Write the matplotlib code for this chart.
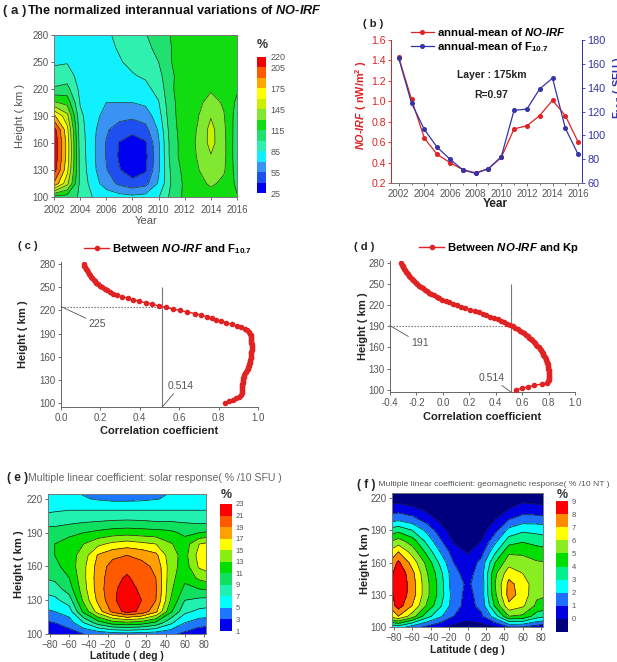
import numpy as np
import matplotlib
matplotlib.use('Agg')
import matplotlib.pyplot as plt

plt.rcParams['font.family'] = ['Liberation Sans', 'DejaVu Sans']
plt.rcParams['mathtext.fontset'] = 'custom'
plt.rcParams['mathtext.rm'] = 'Liberation Sans:bold'
plt.rcParams['mathtext.it'] = 'Liberation Sans:italic:bold'
plt.rcParams['mathtext.bf'] = 'Liberation Sans:bold'

# ---------------- data ----------------
# (a) normalized interannual variation (%), one column per year, heights 100..280 step 15
years_a = [2002, 2003, 2004, 2005, 2006, 2007, 2008, 2009, 2010, 2011, 2012, 2013, 2014, 2015, 2016]
heights_a = [100, 115, 130, 145, 160, 175, 190, 205, 220, 235, 250, 265, 280]
nirf_by_year = [
    [110, 188, 212, 218, 219, 212, 178, 132, 102, 90, 83, 80, 78],
    [108, 150, 165, 170, 170, 165, 150, 125, 105, 92, 84, 80, 78],
    [98, 96, 95, 94, 93, 91, 88, 84, 81, 79, 78, 77, 77],
    [84, 78, 74, 73, 73, 74, 76, 78, 79, 79, 79, 79, 80],
    [80, 62, 56, 54, 54, 57, 64, 70, 75, 78, 80, 82, 83],
    [76, 52, 41, 38, 39, 48, 60, 70, 77, 81, 84, 86, 88],
    [74, 45, 32, 30, 32, 45, 58, 70, 78, 84, 88, 91, 94],
    [76, 50, 38, 36, 38, 50, 62, 73, 81, 87, 92, 96, 99],
    [84, 72, 68, 67, 68, 72, 78, 84, 90, 95, 100, 104, 108],
    [105, 102, 104, 108, 108, 110, 112, 113, 114, 114, 115, 115, 116],
    [118, 118, 120, 122, 122, 122, 121, 120, 120, 119, 119, 119, 119],
    [119, 124, 129, 131, 132, 131, 129, 126, 122, 120, 119, 119, 119],
    [122, 133, 139, 144, 150, 150, 144, 136, 128, 122, 120, 119, 119],
    [118, 126, 132, 134, 134, 133, 131, 128, 123, 120, 119, 119, 119],
    [116, 112, 108, 106, 106, 107, 108, 112, 117, 119, 119, 119, 119],
]
levels_a = [25, 40, 55, 70, 85, 100, 115, 130, 145, 160, 175, 190, 205, 220]
cbar_ticks_a = [25, 55, 85, 115, 145, 175, 205, 220]
cols_a = ['#0000F0', '#1F4FF0', '#3A92F2', '#10F0FF', '#30F0B0', '#20E070', '#10DC10',
          '#80E830', '#C8F000', '#FFFF00', '#FFA800', '#FF5A00', '#F00000']

# (b) annual means at 175 km
years_b = [2002, 2003, 2004, 2005, 2006, 2007, 2008, 2009, 2010, 2011, 2012, 2013, 2014, 2015, 2016]
nirf_b = [1.43, 1.02, 0.64, 0.48, 0.40, 0.33, 0.30, 0.34, 0.45, 0.73, 0.76, 0.86, 1.01, 0.86, 0.60]
f107_b = [165, 127, 105, 90, 80, 71, 68, 72, 82, 121, 122, 139, 148, 106, 84]

# (c) correlation NO-IRF vs F10.7, heights 100..280 step 2
corr_c = [0.830, 0.855, 0.875, 0.890, 0.905, 0.915, 0.920, 0.920, 0.920, 0.920,
          0.920, 0.920, 0.921, 0.922, 0.924, 0.925, 0.926, 0.928, 0.930, 0.935,
          0.940, 0.944, 0.948, 0.951, 0.953, 0.955, 0.957, 0.959, 0.961, 0.963,
          0.965, 0.966, 0.967, 0.967, 0.968, 0.968, 0.968, 0.968, 0.968, 0.967,
          0.967, 0.966, 0.965, 0.964, 0.962, 0.958, 0.952, 0.944, 0.932, 0.915,
          0.893, 0.866, 0.840, 0.814, 0.788, 0.765, 0.740, 0.712, 0.678, 0.639,
          0.603, 0.567, 0.531, 0.496, 0.463, 0.430, 0.395, 0.365, 0.338, 0.310,
          0.285, 0.265, 0.250, 0.236, 0.223, 0.210, 0.199, 0.189, 0.180, 0.172,
          0.165, 0.158, 0.152, 0.146, 0.141, 0.136, 0.131, 0.127, 0.123, 0.119,
          0.115]
# (d) correlation NO-IRF vs Kp, heights 100..280 step 2
corr_d = [0.555, 0.600, 0.645, 0.690, 0.750, 0.785, 0.798, 0.800, 0.800, 0.800,
          0.800, 0.800, 0.800, 0.800, 0.800, 0.799, 0.798, 0.796, 0.794, 0.790,
          0.786, 0.782, 0.778, 0.773, 0.767, 0.761, 0.755, 0.748, 0.740, 0.732,
          0.724, 0.715, 0.706, 0.697, 0.687, 0.677, 0.666, 0.654, 0.641, 0.627,
          0.612, 0.597, 0.582, 0.566, 0.549, 0.530, 0.508, 0.488, 0.465, 0.440,
          0.415, 0.390, 0.360, 0.330, 0.300, 0.270, 0.240, 0.205, 0.168, 0.136,
          0.104, 0.074, 0.046, 0.020, -0.004, -0.026, -0.047, -0.067, -0.086, -0.104,
          -0.121, -0.137, -0.152, -0.166, -0.180, -0.193, -0.205, -0.216, -0.227, -0.237,
          -0.246, -0.255, -0.263, -0.271, -0.278, -0.285, -0.292, -0.298, -0.304, -0.310,
          -0.316]
sig_level = 0.514
cross_c = 225
cross_d = 191

# (e), (f) multiple linear coefficients; one column per latitude, heights 100..230 step 10
lats_ef = [-90, -75, -60, -45, -30, -15, 0, 15, 30, 45, 60, 75, 90]
heights_ef = [100, 110, 120, 130, 140, 150, 160, 170, 180, 190, 200, 210, 220, 230]
solar_by_lat = [
    [1.2, 2.5, 4.5, 6.0, 7.5, 9.0, 10.0, 10.5, 10.5, 10.0, 8.0, 6.5, 5.5, 5.0],
    [1.3, 3.0, 5.0, 6.5, 8.0, 9.5, 10.5, 11.0, 11.0, 10.0, 8.2, 6.8, 5.6, 5.2],
    [2.0, 4.0, 6.0, 8.0, 10.0, 11.0, 11.8, 12.0, 11.8, 10.5, 8.5, 7.0, 5.6, 5.0],
    [3.0, 7.0, 11.5, 13.5, 14.2, 14.5, 14.5, 14.0, 13.0, 11.0, 8.8, 7.0, 5.2, 4.5],
    [3.5, 10.0, 16.0, 17.5, 18.0, 18.0, 17.8, 17.2, 14.5, 11.5, 9.0, 7.0, 4.8, 4.0],
    [4.0, 12.0, 19.5, 20.5, 20.5, 20.2, 19.8, 18.5, 15.5, 12.0, 9.2, 7.0, 4.5, 3.8],
    [4.2, 12.5, 21.8, 22.5, 22.0, 21.3, 20.3, 19.0, 16.0, 12.2, 9.3, 7.0, 4.5, 3.8],
    [4.0, 12.0, 20.5, 21.0, 20.5, 20.0, 19.6, 18.5, 15.5, 12.0, 9.2, 7.0, 4.6, 4.0],
    [3.8, 10.5, 17.5, 19.0, 19.2, 19.0, 18.6, 17.5, 15.0, 11.8, 9.0, 7.0, 4.9, 4.2],
    [3.5, 7.5, 11.5, 13.0, 13.5, 13.8, 14.0, 13.8, 13.2, 11.5, 9.0, 7.0, 5.3, 4.8],
    [2.5, 5.0, 7.5, 9.0, 10.5, 11.5, 12.0, 12.3, 12.0, 10.5, 8.8, 7.0, 5.8, 5.2],
    [1.5, 4.0, 6.5, 8.5, 11.0, 13.5, 15.3, 15.8, 15.0, 11.0, 8.5, 7.0, 6.0, 5.5],
    [1.2, 3.8, 6.2, 8.2, 11.5, 14.5, 16.0, 16.5, 15.8, 11.5, 8.5, 7.0, 6.2, 5.8],
]
levels_e = [1, 3, 5, 7, 9, 11, 13, 15, 17, 19, 21, 23]
cols_e = ['#0000F0', '#1E78FF', '#00FFFF', '#20F0B0', '#10E060', '#00DD00',
          '#88EE10', '#FFFF00', '#FFA000', '#FF5A00', '#FF0000']

geo_by_lat = [
    [2.0, 5.8, 6.6, 6.8, 6.9, 6.8, 6.5, 5.8, 4.6, 3.2, 1.5, 0.3, -0.5, -0.8],
    [2.5, 7.0, 8.5, 8.8, 8.9, 8.8, 8.2, 7.0, 5.4, 3.7, 1.8, 0.5, -0.5, -0.8],
    [1.5, 5.5, 7.0, 7.5, 7.5, 7.3, 6.6, 5.6, 4.5, 3.0, 1.4, 0.2, -0.6, -0.8],
    [0.8, 3.5, 5.0, 5.4, 5.4, 5.2, 4.8, 3.8, 2.8, 1.8, 0.6, -0.2, -0.7, -0.8],
    [0.2, 2.2, 3.2, 3.6, 3.6, 3.4, 2.8, 2.0, 1.2, 0.5, -0.2, -0.6, -0.8, -0.9],
    [-0.3, 1.0, 1.5, 1.5, 1.3, 1.3, 1.0, 0.5, -0.1, -0.5, -0.7, -0.8, -0.9, -0.9],
    [-0.5, 0.4, 0.6, 0.7, 0.9, 0.6, 0.3, -0.1, -0.5, -0.7, -0.8, -0.9, -0.9, -0.9],
    [-0.4, 0.8, 1.3, 1.4, 1.3, 1.5, 1.3, 0.6, 0.0, -0.4, -0.7, -0.8, -0.9, -0.9],
    [0.0, 2.5, 4.2, 4.8, 5.0, 4.8, 4.0, 2.8, 1.7, 0.7, 0.0, -0.5, -0.8, -0.9],
    [1.0, 5.0, 6.8, 7.4, 7.3, 6.6, 5.6, 4.8, 3.5, 2.3, 1.0, 0.0, -0.6, -0.8],
    [1.0, 4.8, 6.2, 6.6, 6.5, 6.0, 5.4, 4.8, 3.9, 2.8, 1.5, 0.4, -0.3, -0.6],
    [0.5, 3.5, 4.8, 5.2, 5.4, 5.3, 5.1, 4.5, 3.6, 2.7, 1.5, 0.3, -0.4, -0.7],
    [0.2, 3.0, 4.4, 5.0, 5.3, 5.3, 5.0, 4.3, 3.4, 2.5, 1.3, 0.2, -0.5, -0.8],
]
levels_f = [-1, 0, 1, 2, 3, 4, 5, 6, 7, 8, 9]
cols_f = ['#00007F', '#0000E0', '#1E6EFF', '#00FFFF', '#00F08C', '#00DD00',
          '#88EE22', '#FFFF00', '#FF8C00', '#FF0000']

# ---------------- layout helpers ----------------
W, H = 617, 662
fig = plt.figure(figsize=(W / 100, H / 100), dpi=100)
renderer = fig.canvas.get_renderer()
TICK = '#555555'
RED = '#E02222'
BLUE = '#3434A8'


def rect(l, t, r, b):
    return [l / W, 1 - b / H, (r - l) / W, (b - t) / H]


def ftext(x, y, s, **kw):
    return fig.text(x / W, 1 - y / H, s, **kw)


def rich(x, y, parts, gap=0):
    cur = x
    for s, kw in parts:
        t = ftext(cur, y, s, ha='left', va='center', **kw)
        cur += t.get_window_extent(renderer=renderer).width + gap


def style_axes(ax, spine_col='#777777'):
    for sp in ax.spines.values():
        sp.set_color(spine_col)
        sp.set_linewidth(0.7)
    ax.tick_params(labelsize=7, colors=TICK, length=2.5, width=0.6, pad=1.5)


# ---------------- (a) ----------------
axa = fig.add_axes(rect(54, 35, 237, 197))
Za = np.array(nirf_by_year).T
csa = axa.contourf(years_a, heights_a, Za, levels=levels_a, colors=cols_a)
axa.contour(years_a, heights_a, Za, levels=levels_a, colors='#203a2c', linewidths=0.5)
axa.set_xlim(2002, 2016)
axa.set_ylim(100, 280)
axa.set_xticks(range(2002, 2017, 2))
axa.set_yticks(range(100, 281, 30))
style_axes(axa)
axa.tick_params(axis='x', pad=3)
caxa = fig.add_axes(rect(257, 57, 266, 193))
cba = fig.colorbar(csa, cax=caxa, ticks=cbar_ticks_a)
cba.outline.set_visible(False)
caxa.tick_params(length=0, labelsize=6.5, colors=TICK, pad=3)
ftext(262, 45, '%', ha='center', va='center', fontsize=9, fontweight='bold', color='#333')
rich(3, 11, [('( a )', dict(fontsize=9.5, fontweight='bold', color='#222')),
             (r'The normalized interannual variations of $\it{NO}$-$\it{IRF}$',
              dict(fontsize=9.2, fontweight='bold', color='#111'))], gap=1)
ftext(20, 116, 'Height ( km )', rotation=90, ha='center', va='center', fontsize=8, color='#555')
ftext(146, 221, 'Year', ha='center', va='center', fontsize=8, color='#555')

# ---------------- (b) ----------------
axb = fig.add_axes(rect(391, 40, 582, 183))
l1, = axb.plot(years_b, nirf_b, '-o', color=RED, ms=2.6, lw=0.9)
axb.set_xlim(2001.4, 2016.3)
axb.set_ylim(0.2, 1.6)
axb.set_yticks(np.arange(0.2, 1.61, 0.2))
axb.set_yticklabels(['0.2', '0.4', '0.6', '0.8', '1.0', '1.2', '1.4', '1.6'])
axb.set_xticks(range(2002, 2017, 2))
axb.set_xticks(range(2002, 2017), minor=True)
axb2 = axb.twinx()
l2, = axb2.plot(years_b, f107_b, '-o', color=BLUE, ms=2.6, lw=0.9)
axb2.set_ylim(60, 180)
axb2.set_yticks(range(60, 181, 20))
for ax in (axb, axb2):
    style_axes(ax)
    ax.spines['top'].set_visible(False)
    ax.spines['left'].set_color(RED)
    ax.spines['right'].set_color(BLUE)
axb.tick_params(axis='y', colors=RED, labelsize=7.6, pad=1)
axb.tick_params(axis='x', which='minor', length=1.5, colors=TICK)
axb2.tick_params(axis='y', colors=BLUE, labelsize=7.8)
axb2.legend([l1, l2], [r'annual-mean of $\it{NO}$-$\it{IRF}$', r'annual-mean of F$_{10.7}$'],
            loc='upper left', bbox_to_anchor=(411 / W, 1 - 26 / H), bbox_transform=fig.transFigure,
            frameon=False, prop=dict(weight='bold', size=8.2), handlelength=2.0,
            handletextpad=0.3, labelspacing=0.15, borderpad=0, borderaxespad=0)
ftext(492, 75, 'Layer : 175km', ha='center', va='center', fontsize=7.5, fontweight='bold', color='#222')
ftext(491, 95, 'R=0.97', ha='center', va='center', fontsize=7.5, fontweight='bold', color='#222')
ftext(373, 24, '( b )', ha='center', va='center', fontsize=8, fontweight='bold', color='#222')
ftext(361, 105, r'$\it{NO}$-$\it{IRF}$ ( nW/m$^2$ )', rotation=90, ha='center', va='center',
      fontsize=7.8, fontweight='bold', color=RED)
ftext(618, 88, r'F$_{10.7}$ ( SFU )', rotation=90, ha='center', va='center',
      fontsize=8, fontweight='bold', color=BLUE)
ftext(495, 204, 'Year', ha='center', va='center', fontsize=8.5, fontweight='bold', color='#222')


# ---------------- (c), (d) ----------------
def corr_panel(r, corr, xlim, ylim, xticks, cross, cross_label_xy, sig_label_xy, label_x, xlabel_y,
               legend_xy, legend_label, tag_xy, tag):
    ax = fig.add_axes(rect(*r))
    hts = 100 + 2 * np.arange(len(corr))
    ax.hlines(cross, xlim[0], sig_level + 0.04, colors='#666', linestyles=(0, (1.2, 1.5)), lw=0.8, zorder=1)
    ax.vlines(sig_level, ylim[0], 251, colors='#777', lw=0.8, zorder=1)
    ln, = ax.plot(corr, hts, '-o', color=RED, ms=3.0, lw=1.0, zorder=3)
    ax.set_xlim(*xlim)
    ax.set_ylim(*ylim)
    ax.set_xticks(xticks)
    ax.set_xticklabels(['%.1f' % v for v in xticks])
    ax.set_yticks(range(100, 281, 30))
    style_axes(ax, '#666')
    ax.spines['top'].set_visible(False)
    ax.spines['right'].set_visible(False)
    ap = dict(arrowstyle='-', color='#555', lw=0.6, shrinkA=0, shrinkB=0)
    ax.annotate(str(cross), xy=(xlim[0], cross), xytext=cross_label_xy, fontsize=7.5, color='#555',
                ha='left', va='center', arrowprops=ap)
    ax.annotate('%.3f' % sig_level, xy=(sig_level, ylim[0]), xytext=sig_label_xy, fontsize=7.5,
                color='#555', ha='left', va='center', arrowprops=ap)
    ax.legend([ln], [legend_label], loc='upper left', bbox_to_anchor=(legend_xy[0] / W, 1 - legend_xy[1] / H),
              bbox_transform=fig.transFigure, frameon=False, prop=dict(weight='bold', size=8.2),
              handlelength=2.2, handletextpad=0.3, borderpad=0, borderaxespad=0)
    ftext(label_x, (r[1] + r[3]) / 2, 'Height ( km )', rotation=90, ha='center', va='center',
          fontsize=8, fontweight='bold', color='#222')
    ftext((r[0] + r[2]) / 2, xlabel_y, 'Correlation coefficient', ha='center', va='center',
          fontsize=8, fontweight='bold', color='#222')
    ftext(tag_xy[0], tag_xy[1], tag, ha='center', va='center', fontsize=8, fontweight='bold', color='#222')
    return ax


corr_panel((61, 262, 258, 407), corr_c, (0.0, 1.0), (94.4, 283), [0.0, 0.2, 0.4, 0.6, 0.8, 1.0],
           cross_c, (0.14, 203), (0.54, 122), 23, 431, (84, 242),
           r'Between $\it{NO}$-$\it{IRF}$ and F$_{10.7}$', (28, 246), '( c )')
corr_panel((390, 261, 575, 392), corr_d, (-0.4, 1.0), (96.7, 283),
           [-0.4, -0.2, 0.0, 0.2, 0.4, 0.6, 0.8, 1.0],
           cross_d, (-0.24, 166), (0.27, 117), 363, 417, (419, 241),
           r'Between $\it{NO}$-$\it{IRF}$ and Kp', (364, 247), '( d )')


# ---------------- (e), (f) ----------------
def map_panel(r, Z, levels, cols, ylim, crect, cticks, ylabel_x, xlabel_y, pct_y, xl_size):
    ax = fig.add_axes(rect(*r))
    Zt = np.array(Z).T
    cs = ax.contourf(lats_ef, heights_ef, Zt, levels=levels, colors=cols)
    ax.contour(lats_ef, heights_ef, Zt, levels=levels, colors='#1a1a1a', linewidths=0.5)
    ax.set_xlim(-82, 82)
    ax.set_ylim(*ylim)
    ax.set_xticks(range(-80, 81, 20))
    ax.set_yticks(range(100, 221, 30))
    style_axes(ax)
    cax = fig.add_axes(rect(*crect))
    cb = fig.colorbar(cs, cax=cax, ticks=cticks)
    cb.outline.set_visible(False)
    cax.tick_params(length=0, labelsize=5.5, colors=TICK, pad=2.5)
    ftext((crect[0] + crect[2]) / 2, pct_y, '%', ha='center', va='center', fontsize=9,
          fontweight='bold', color='#333')
    ftext(ylabel_x, (r[1] + r[3]) / 2, 'Height ( km )', rotation=90, ha='center', va='center',
          fontsize=8, fontweight='bold', color='#222')
    ftext((r[0] + r[2]) / 2, xlabel_y, 'Latitude ( deg )', ha='center', va='center',
          fontsize=xl_size, fontweight='bold', color='#222')
    return ax


map_panel((48, 494, 206, 634), solar_by_lat, levels_e, cols_e, (100, 224.4), (220, 504, 232, 631),
          list(range(1, 24, 2)), 19, 656, 495, 7.4)
map_panel((392, 493, 543, 627), geo_by_lat, levels_f, cols_f, (100, 224.7), (556, 501, 568, 632),
          list(range(0, 10)), 365, 650, 495, 7.6)
rich(7, 478, [('( e )', dict(fontsize=8.5, fontweight='bold', color='#222')),
              ('Multiple linear coefficient: solar response( % /10 SFU )', dict(fontsize=7.6, color='#666'))])
rich(357, 485, [('( f )', dict(fontsize=8.5, fontweight='bold', color='#222')),
                (' Multiple linear coefficient: geomagnetic response( % /10 NT )', dict(fontsize=6.1, color='#555'))])

fig.savefig('out.png', dpi=100)
